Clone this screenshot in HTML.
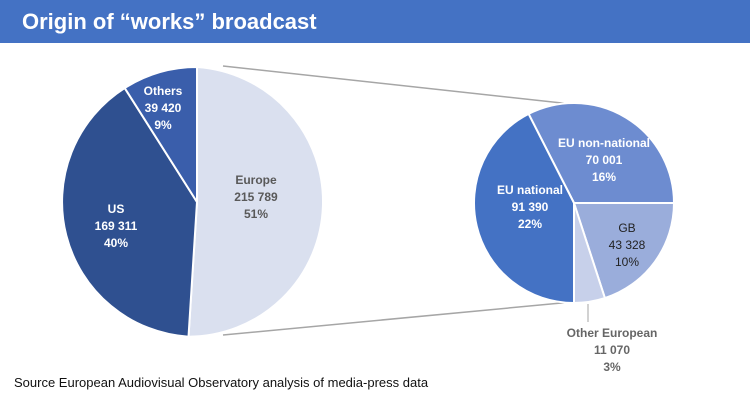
<!DOCTYPE html>
<html><head><style>
body{margin:0;width:750px;height:400px;background:#fff;overflow:hidden;font-family:"Liberation Sans",sans-serif}
</style></head><body>
<svg width="750" height="400" xmlns="http://www.w3.org/2000/svg" font-family="Liberation Sans, sans-serif">
<rect x="0" y="0" width="750" height="43" fill="#4472c4"/>
<text x="22" y="29" fill="#fff" font-size="22" font-weight="bold">Origin of “works” broadcast</text>
<!-- connectors -->
<line x1="223" y1="66" x2="571" y2="104" stroke="#a6a6a6" stroke-width="1.5"/>
<line x1="223" y1="335" x2="572" y2="302" stroke="#a6a6a6" stroke-width="1.5"/>
<!-- big pie center 197,202 r 135 -->
<g stroke="#fff" stroke-width="2">
<path d="M197,202 L197,67 A135,135 0 0 1 188.5,336.7 Z" fill="#dae0ef"/>
<path d="M197,202 L188.5,336.7 A135,135 0 0 1 124.7,88 Z" fill="#2f5090"/>
<path d="M197,202 L124.7,88 A135,135 0 0 1 197,67 Z" fill="#3a5eab"/>
</g>
<g font-size="12" font-weight="bold" fill="#fff" text-anchor="middle">
<text x="163" y="95">Others</text><text x="163" y="112">39 420</text><text x="163" y="129">9%</text>
<text x="116" y="213">US</text><text x="116" y="230">169 311</text><text x="116" y="247">40%</text>
</g>
<g font-size="12" font-weight="bold" fill="#595959" text-anchor="middle">
<text x="256" y="184">Europe</text><text x="256" y="201">215 789</text><text x="256" y="218">51%</text>
</g>
<!-- small pie center 574,203 r 100 -->
<g stroke="#fff" stroke-width="2">
<path d="M574,203 L528.6,113.9 A100,100 0 0 1 674,203 Z" fill="#6d8cd0"/>
<path d="M574,203 L674,203 A100,100 0 0 1 604.9,298.1 Z" fill="#9aaddb"/>
<path d="M574,203 L604.9,298.1 A100,100 0 0 1 574,303 Z" fill="#c7d0ea"/>
<path d="M574,203 L574,303 A100,100 0 0 1 528.6,113.9 Z" fill="#4472c4"/>
</g>
<line x1="588" y1="304" x2="588" y2="322" stroke="#a6a6a6" stroke-width="1"/>
<g font-size="12" font-weight="bold" fill="#fff" text-anchor="middle">
<text x="604" y="147">EU non-national</text><text x="604" y="164">70 001</text><text x="604" y="181">16%</text>
<text x="530" y="194">EU national</text><text x="530" y="211">91 390</text><text x="530" y="228">22%</text>
</g>
<g font-size="12" fill="#222" text-anchor="middle">
<text x="627" y="232">GB</text><text x="627" y="249">43 328</text><text x="627" y="266">10%</text>
</g>
<g font-size="12" font-weight="bold" fill="#666" text-anchor="middle">
<text x="612" y="337">Other European</text><text x="612" y="354">11 070</text><text x="612" y="371">3%</text>
</g>
<text x="14" y="387" font-size="13" fill="#111">Source European Audiovisual Observatory analysis of media-press data</text>
</svg>
</body></html>
